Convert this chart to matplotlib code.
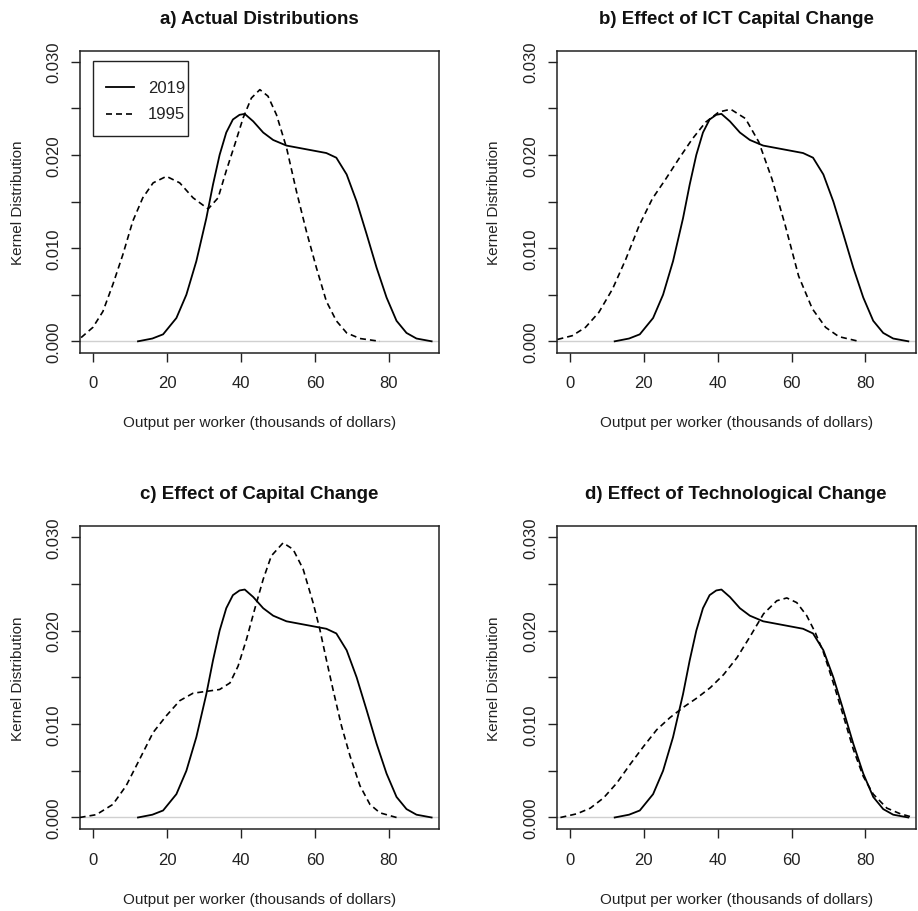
import matplotlib
matplotlib.use("Agg")
import matplotlib.pyplot as plt
from matplotlib.patches import Rectangle

plt.rcParams['font.family'] = ['Liberation Sans', 'DejaVu Sans']

# 2019 kernel density (same in every panel)
x2019 = [12.1, 16.0, 18.9, 22.5, 25.2, 27.9, 30.6, 32.4, 34.2, 36.0, 37.8, 39.6, 41.0,
         43.3, 46.0, 48.7, 52.3, 57.7, 63.1, 65.8, 68.6, 71.3, 74.0, 76.7, 79.4,
         82.1, 84.8, 87.5, 91.6]
y2019 = [0.0, 0.0003, 0.00075, 0.0025, 0.005, 0.0086, 0.0132, 0.0168, 0.02, 0.0224, 0.0238,
         0.0243, 0.0244, 0.0236, 0.0224, 0.0216, 0.021, 0.0206, 0.0202, 0.0197, 0.0179,
         0.015, 0.0115, 0.0079, 0.0047, 0.0022, 0.0009, 0.0003, 0.0]

# 1995 / counterfactual curves per panel
xa = [-3.3, -0.1, 2.6, 5.3, 8.0, 10.7, 13.4, 16.2, 19.8, 23.4, 27.0, 31.1, 33.8,
      36.0, 38.3, 40.6, 42.8, 45.1, 47.3, 49.6, 52.3, 55.0, 57.7, 60.4, 63.1, 65.8,
      68.6, 72.2, 77.6]
ya = [0.0004, 0.0015, 0.0032, 0.0061, 0.0093, 0.0129, 0.0154, 0.017, 0.0177, 0.017,
      0.0154, 0.0142, 0.0154, 0.0183, 0.0211, 0.024, 0.0261, 0.027, 0.0263, 0.0243,
      0.0208, 0.0161, 0.0118, 0.0079, 0.0043, 0.0022, 0.0009, 0.0003, 0.0]

xb = [-3.4, 0.6, 4.2, 7.8, 11.5, 15.1, 18.7, 22.3, 25.9, 29.5, 33.1, 36.7, 40.3,
      43.5, 47.5, 51.1, 54.7, 58.3, 61.9, 65.6, 69.2, 72.8, 78.2]
yb = [0.0002, 0.0006, 0.0015, 0.0031, 0.0056, 0.0088, 0.0124, 0.0153, 0.0174, 0.0196,
      0.0217, 0.0235, 0.0246, 0.0249, 0.0239, 0.0214, 0.0174, 0.0124, 0.007, 0.0035,
      0.0015, 0.0005, 0.0]

xc = [-3.7, 0.8, 5.3, 8.9, 12.5, 16.2, 19.8, 23.4, 27.0, 30.6, 34.2, 37.0, 39.2,
      41.5, 43.7, 46.0, 48.2, 51.4, 54.1, 56.8, 59.5, 61.3, 63.1, 64.9, 67.2, 69.5,
      72.2, 74.9, 77.6, 82.1]
yc = [0.0, 0.0003, 0.0014, 0.0034, 0.0062, 0.0091, 0.0109, 0.0125, 0.0133, 0.0135,
      0.0137, 0.0144, 0.0162, 0.0191, 0.0223, 0.0255, 0.028, 0.0294, 0.0287, 0.0266,
      0.023, 0.0202, 0.0169, 0.0137, 0.0098, 0.0066, 0.0034, 0.0014, 0.0005, 0.0]

xd = [-2.6, 1.9, 5.5, 9.1, 12.7, 16.3, 19.9, 23.5, 27.1, 30.7, 34.4, 38.0, 41.6,
      45.2, 48.8, 52.4, 56.0, 58.7, 61.4, 64.1, 66.4, 68.6, 71.3, 74.0, 76.7, 79.4,
      82.1, 85.8, 89.4, 93.0]
yd = [0.0, 0.0004, 0.001, 0.0021, 0.0037, 0.0057, 0.0076, 0.0094, 0.0107, 0.0118,
      0.0128, 0.0139, 0.0153, 0.0171, 0.0194, 0.0218, 0.0232, 0.0235, 0.023, 0.0216,
      0.0198, 0.0177, 0.0144, 0.0109, 0.0073, 0.0044, 0.0025, 0.001, 0.0004, 0.0]

titles = ['a) Actual Distributions', 'b) Effect of ICT Capital Change',
          'c) Effect of Capital Change', 'd) Effect of Technological Change']
dashed = [(xa, ya), (xb, yb), (xc, yc), (xd, yd)]
legend_labels = ['2019', '1995']
xticks = [0, 20, 40, 60, 80]
yticks = [0.0, 0.005, 0.01, 0.015, 0.02, 0.025, 0.03]
ylabels = ['0.000', '', '0.010', '', '0.020', '', '0.030']

W, H = 918, 912
fig = plt.figure(figsize=(W / 100, H / 100), dpi=100)

# axes boxes in pixels: left, top, right, bottom
boxes = [(80, 51.5, 439, 353.5), (556.7, 51.5, 915.7, 353.5),
         (80, 527, 439, 829.7), (556.7, 527, 915.7, 829.7)]

ink = '#222222'
dash = (3.6, 2.4)

for i, (l, t, r, b) in enumerate(boxes):
    ax = fig.add_axes([l / W, 1 - b / H, (r - l) / W, (b - t) / H])
    ax.axhline(0, color='#d0d0d0', lw=1.0, zorder=1)
    ax.plot(x2019, y2019, color='black', lw=1.3, zorder=3)
    dx, dy = dashed[i]
    ax.plot(dx, dy, color='black', lw=1.2, dashes=dash, zorder=3)
    ax.set_xlim(-3.6, 93.6)
    ax.set_ylim(-0.0012, 0.0312)
    ax.set_xticks(xticks)
    ax.set_xticklabels([str(v) for v in xticks])
    ax.set_yticks(yticks)
    ax.set_yticklabels(ylabels, rotation=90, va='center')
    ax.tick_params(axis='both', length=6.5, width=1.0, labelsize=12, colors=ink)
    ax.tick_params(axis='x', pad=10)
    ax.tick_params(axis='y', pad=7)
    for s in ax.spines.values():
        s.set_linewidth(1.1)
        s.set_color(ink)
    ax.set_xlabel('Output per worker (thousands of dollars)', fontsize=11,
                  color=ink, labelpad=18)
    ax.set_ylabel('Kernel Distribution', fontsize=11, color=ink, labelpad=15.5)
    ax.set_title(titles[i], fontsize=13.5, fontweight='bold', pad=20, color='#111111')

    if i == 0:
        # R-style legend box
        ax.add_patch(Rectangle((0.037, 0.718), 0.265, 0.246, transform=ax.transAxes,
                               fill=False, edgecolor=ink, lw=1.0, zorder=4))
        ax.plot([0.0724, 0.1504], [0.878, 0.878], transform=ax.transAxes,
                color='black', lw=1.3, zorder=4)
        ax.plot([0.0724, 0.1504], [0.790, 0.790], transform=ax.transAxes,
                color='black', lw=1.2, dashes=dash, zorder=4)
        for lab, yy in zip(legend_labels, [0.878, 0.790]):
            ax.text(0.19, yy, lab, transform=ax.transAxes, fontsize=12, color=ink,
                    va='center', ha='left')

fig.savefig('out.png', dpi=100)
